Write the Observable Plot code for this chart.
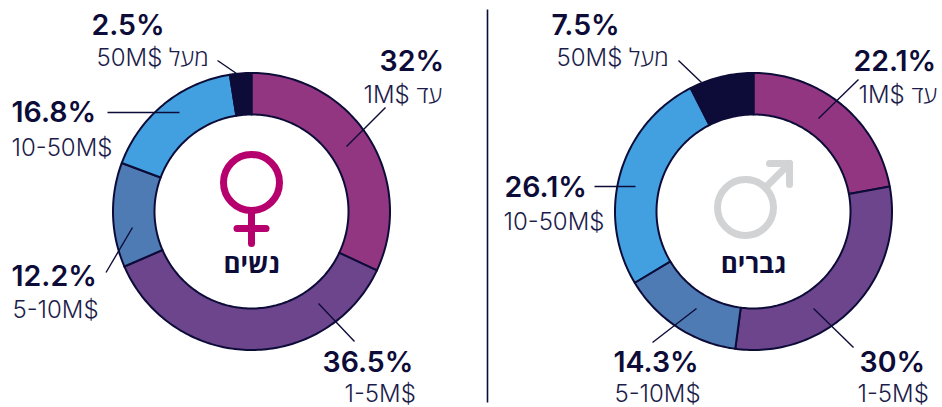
<!doctype html>
<html lang="he">
<head>
<meta charset="utf-8">
<script src="https://cdn.jsdelivr.net/npm/d3@7"></script>
<script src="https://cdn.jsdelivr.net/npm/@observablehq/plot@0.6"></script>
<style>
html,body{margin:0;padding:0;background:#fff;}
svg{display:block;}
</style>
</head>
<body>
<div id="chart"></div>
<script>
// --- data ---
const brackets = ["1M$ עד", "1-5M$", "5-10M$", "10-50M$", "50M$ מעל"];
const womenShares = [32, 36.5, 12.2, 16.8, 2.5];
const menShares = [22.1, 30, 14.3, 26.1, 7.5];
const womenTitle = "נשים";
const menTitle = "גברים";
const sliceColors = ["#933682", "#6d458c", "#4f7bb5", "#43a0e0", "#0d0c38"];

// --- layout ---
const ink = "#0d0c38";
const ringA = {cx: 251, cy: 211};
const ringB = {cx: 753, cy: 211};
const outerR = 138.5, innerR = 97;
const womenValuePos = [[379,70],[322,371],[11,285],[11,121],[91,34]];
const womenLabelPos = [[363,102],[344,401],[12,317],[11,155],[96,65]];
const menValuePos = [[853,70],[859,371],[613,371],[504,196],[551,34]];
const menLabelPos = [[858,102],[857,401],[614,401],[503,229],[556,65]];
const womenLeaders = [[385,107,346,146],[318,303,354,341],[132,227,105.5,272],[107,112,179,112],[217,60,236,73]];
const menLeaders = [[858,79,818,118],[813,308,853,347],[696,308,652,342],[594,186,635,186],[678,60,701,82]];

function slicePolygons(shares, ring, key) {
  const rows = [];
  let start = 0;
  shares.forEach((s, i) => {
    const end = start + s;
    const n = Math.max(2, Math.ceil(s * 3));
    const id = key + i;
    const pt = (share, r) => {
      const a = share / 100 * 2 * Math.PI;
      return {id, color: sliceColors[i], x: ring.cx + r * Math.sin(a), y: ring.cy - r * Math.cos(a)};
    };
    for (let k = 0; k <= n; k++) rows.push(pt(start + s * k / n, outerR));
    for (let k = n; k >= 0; k--) rows.push(pt(start + s * k / n, innerR));
    start = end;
  });
  return rows;
}
const polys = [...slicePolygons(womenShares, ringA, "w"), ...slicePolygons(menShares, ringB, "m")];

const fmt = v => v + "%";
const values = [
  ...womenShares.map((v, i) => ({t: fmt(v), p: womenValuePos[i]})),
  ...menShares.map((v, i) => ({t: fmt(v), p: menValuePos[i]}))
];
const labels = [
  ...brackets.map((t, i) => ({t, p: womenLabelPos[i]})),
  ...brackets.map((t, i) => ({t, p: menLabelPos[i]}))
];
const leaders = [...womenLeaders, ...menLeaders];

const female = "#b5006e", male = "#d1d3d4";

const chart = Plot.plot({
  width: 942, height: 407,
  marginTop: 0, marginRight: 0, marginBottom: 0, marginLeft: 0,
  style: {background: "#fff"},
  x: {domain: [0, 942], range: [0, 942], axis: null},
  y: {domain: [0, 407], range: [0, 407], axis: null},
  marks: [
    Plot.line(polys, {x: "x", y: "y", z: "id", fill: "color", stroke: ink, strokeWidth: 2, curve: "linear-closed", strokeLinejoin: "round"}),
    Plot.link(leaders, {x1: d => d[0], y1: d => d[1], x2: d => d[2], y2: d => d[3], stroke: ink, strokeWidth: 1.4}),
    Plot.link([[487, 9, 487, 402]], {x1: d => d[0], y1: d => d[1], x2: d => d[2], y2: d => d[3], stroke: ink, strokeWidth: 1.6}),
    // female symbol
    Plot.dot([[251, 182]], {x: d => d[0], y: d => d[1], r: 28, stroke: female, strokeWidth: 7, fill: "none"}),
    Plot.link([[251, 212, 251, 243], [236.5, 228, 265.5, 228]], {x1: d => d[0], y1: d => d[1], x2: d => d[2], y2: d => d[3], stroke: female, strokeWidth: 7, strokeLinecap: "round"}),
    // male symbol
    Plot.dot([[745, 207]], {x: d => d[0], y: d => d[1], r: 28, stroke: male, strokeWidth: 7, fill: "none"}),
    Plot.link([[766, 186, 789, 163], [769, 163, 789, 163], [789, 163, 789, 184]], {x1: d => d[0], y1: d => d[1], x2: d => d[2], y2: d => d[3], stroke: male, strokeWidth: 7, strokeLinecap: "round"}),
    // texts
    Plot.text(values, {x: d => d.p[0], y: d => d.p[1], text: "t", textAnchor: "start", lineAnchor: "bottom", fontFamily: "Inter, 'Open Sans', sans-serif", fontSize: 28.5, fontWeight: 600, fill: ink}),
    Plot.text(labels, {x: d => d.p[0], y: d => d.p[1], text: "t", textAnchor: "start", lineAnchor: "bottom", fontFamily: "Inter, 'Open Sans', sans-serif", fontSize: 24, fontWeight: 300, fill: "#1c1c4a"}),
    Plot.text([[251, 272, womenTitle], [753, 272, menTitle]], {x: d => d[0], y: d => d[1], text: d => d[2], textAnchor: "middle", lineAnchor: "bottom", fontFamily: "'Open Sans', 'DejaVu Sans', sans-serif", fontSize: 26, fontWeight: 700, fill: ink})
  ]
});
document.getElementById("chart").append(chart);
</script>
</body>
</html>
